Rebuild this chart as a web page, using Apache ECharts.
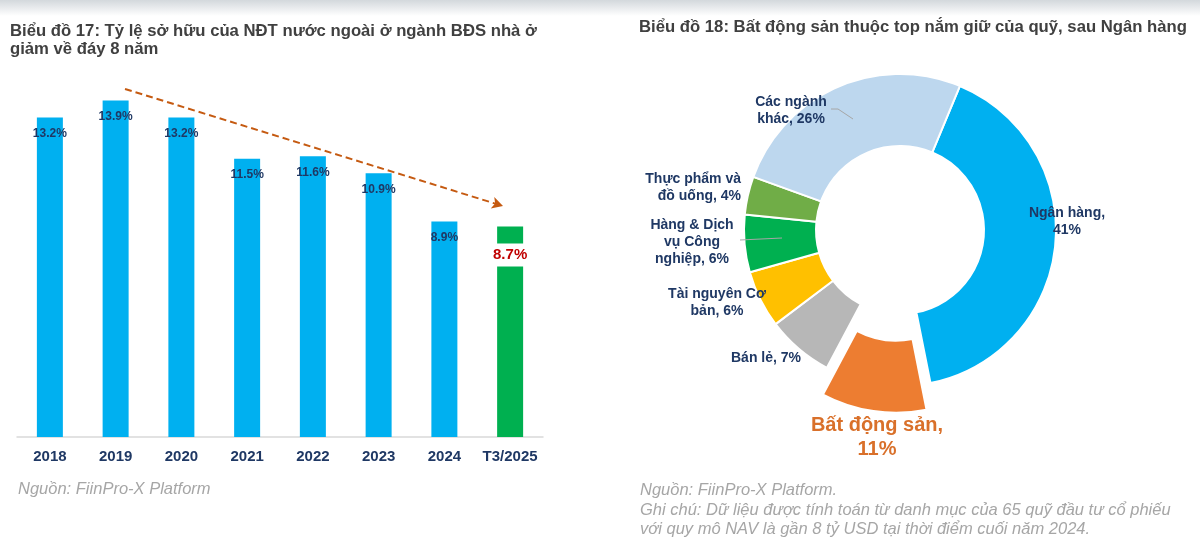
<!DOCTYPE html>
<html><head><meta charset="utf-8">
<script src="https://cdn.jsdelivr.net/npm/echarts@6/dist/echarts.min.js"></script>
<style>html,body{margin:0;padding:0;background:#fff}#c{width:1200px;height:548px}</style>
</head><body><div id="c"></div>
<script>
// ---- data ----
const barCategories = ['2018','2019','2020','2021','2022','2023','2024','T3/2025'];
const barValues = [13.2, 13.9, 13.2, 11.5, 11.6, 10.9, 8.9, 8.7];
const pieNames = ['Ngân hàng','Bất động sản','Bán lẻ','Tài nguyên Cơ bản','Hàng & Dịch vụ Công nghiệp','Thực phẩm và đồ uống','Các ngành khác'];
const pieValues = [41, 11, 7, 6, 6, 4, 26];
const pieLabelTexts = ['Ngân hàng,\n41%','Bất động sản,\n11%','Bán lẻ, 7%','Tài nguyên Cơ\nbản, 6%','Hàng & Dịch\nvụ Công\nnghiệp, 6%','Thực phẩm và\nđồ uống, 4%','Các ngành\nkhác, 26%'];
const highlightIdx = 1; // exploded slice

// ---- styles / layout ----
const FONT = "'Liberation Sans', Arial, sans-serif";
const NAVY = '#1f3864';
const pieColors = ['#00b0f0','#ed7d31','#b7b7b7','#ffc000','#00b050','#70ad47','#bdd7ee'];
const pieLabelLayout = [
  {x:1067, y:222, align:'center'},
  {x:877, y:437, align:'center'},
  {x:766, y:358, align:'center'},
  {x:717, y:303, align:'center'},
  {x:692, y:242, align:'center'},
  {x:741, y:188, align:'right'},
  {x:791, y:111, align:'center'}
];
const leaderLines = [
  [[740,240],[782,238]],
  [[831,109],[838,109],[853,119]]
];

const chart = echarts.init(document.getElementById('c'), null, {renderer:'canvas'});
const lastIdx = barValues.length - 1;
const hl = pieLabelLayout[highlightIdx];
const graphics = [
  {type:'rect', left:0, top:0, shape:{width:1200, height:16}, style:{fill:new echarts.graphic.LinearGradient(0,0,0,1,[{offset:0,color:'#d3d8dc'},{offset:1,color:'#ffffff'}])}, z:-1},
  {type:'text', left:10, top:22, style:{text:'Biểu đồ 17: Tỷ lệ sở hữu của NĐT nước ngoài ở ngành BĐS nhà ở\ngiảm về đáy 8 năm', font:'bold 16.7px '+FONT, fill:'#404040', lineHeight:18.5}},
  {type:'text', left:639, top:19, style:{text:'Biểu đồ 18: Bất động sản thuộc top nắm giữ của quỹ, sau Ngân hàng', font:'bold 16.7px '+FONT, fill:'#404040'}},
  {type:'text', left:18, top:481, style:{text:'Nguồn: FiinPro-X Platform', font:'italic 16.5px '+FONT, fill:'#a6a6a6'}},
  {type:'text', left:640, top:481, style:{text:'Nguồn: FiinPro-X Platform.\nGhi chú: Dữ liệu được tính toán từ danh mục của 65 quỹ đầu tư cổ phiếu\nvới quy mô NAV là gần 8 tỷ USD tại thời điểm cuối năm 2024.', font:'italic 16.5px '+FONT, fill:'#a6a6a6', lineHeight:19.5}},
  {type:'text', z:100, x:hl.x, y:hl.y, style:{text:pieNames[highlightIdx]+',\n'+pieValues[highlightIdx]+'%', font:'bold 20px '+FONT, fill:'#d9702a', lineHeight:24, align:'center', verticalAlign:'middle'}}
];
leaderLines.forEach(pts => graphics.push({type:'polyline', z:100, shape:{points:pts}, style:{stroke:'#a6a6a6', lineWidth:1, fill:null}}));

const option = {
  animation:false,
  textStyle:{fontFamily:FONT},
  graphic:graphics,
  grid:{left:17, top:74, width:526, height:363},
  xAxis:{type:'category', data:barCategories,
    axisLine:{lineStyle:{color:'#d9d9d9', width:1.5}}, axisTick:{show:false},
    axisLabel:{interval:0, color:NAVY, fontWeight:'bold', fontSize:15, margin:12, fontFamily:FONT}},
  yAxis:{type:'value', min:0, max:15, show:false, splitLine:{show:false}},
  series:[
    {type:'bar', barWidth:26,
     data:barValues.map((v,i)=> i===lastIdx ? {value:v, itemStyle:{color:'#00b050'},
        label:{color:'#c00000', fontSize:15, backgroundColor:'#fff', padding:[4,5], distance:17}} : v),
     itemStyle:{color:'#00b0f0'},
     label:{show:true, position:'insideTop', distance:10, formatter:p=>p.value.toFixed(1)+'%',
       color:NAVY, fontWeight:'bold', fontSize:12, fontFamily:FONT},
     markLine:{silent:true, symbol:['none','arrow'], symbolSize:[9,11], label:{show:false},
       lineStyle:{color:'#c55a11', type:[7,4], width:2},
       data:[[{x:125, y:89},{x:503, y:206}]]}
    },
    {type:'pie', center:[900,230], radius:[84,156], startAngle:67.4, clockwise:true,
     avoidLabelOverlap:false, selectedMode:'single', selectedOffset:27,
     emphasis:{disabled:true},
     itemStyle:{borderColor:'#fff', borderWidth:2},
     data:pieNames.map((n,i)=>({name:n, value:pieValues[i], selected:i===highlightIdx,
        itemStyle:{color:pieColors[i]},
        label: i===highlightIdx ? {show:false} : undefined})),
     label:{show:true, position:'outside', formatter:p=>pieLabelTexts[p.dataIndex],
       color:NAVY, fontWeight:'bold', fontSize:14, lineHeight:17, fontFamily:FONT},
     labelLine:{show:false},
     labelLayout:function(params){
       const p = pieLabelLayout[params.dataIndex];
       return {x:p.x, y:p.y, align:p.align, verticalAlign:'middle'};
     }
    }
  ]
};
chart.setOption(option);
</script></body></html>
